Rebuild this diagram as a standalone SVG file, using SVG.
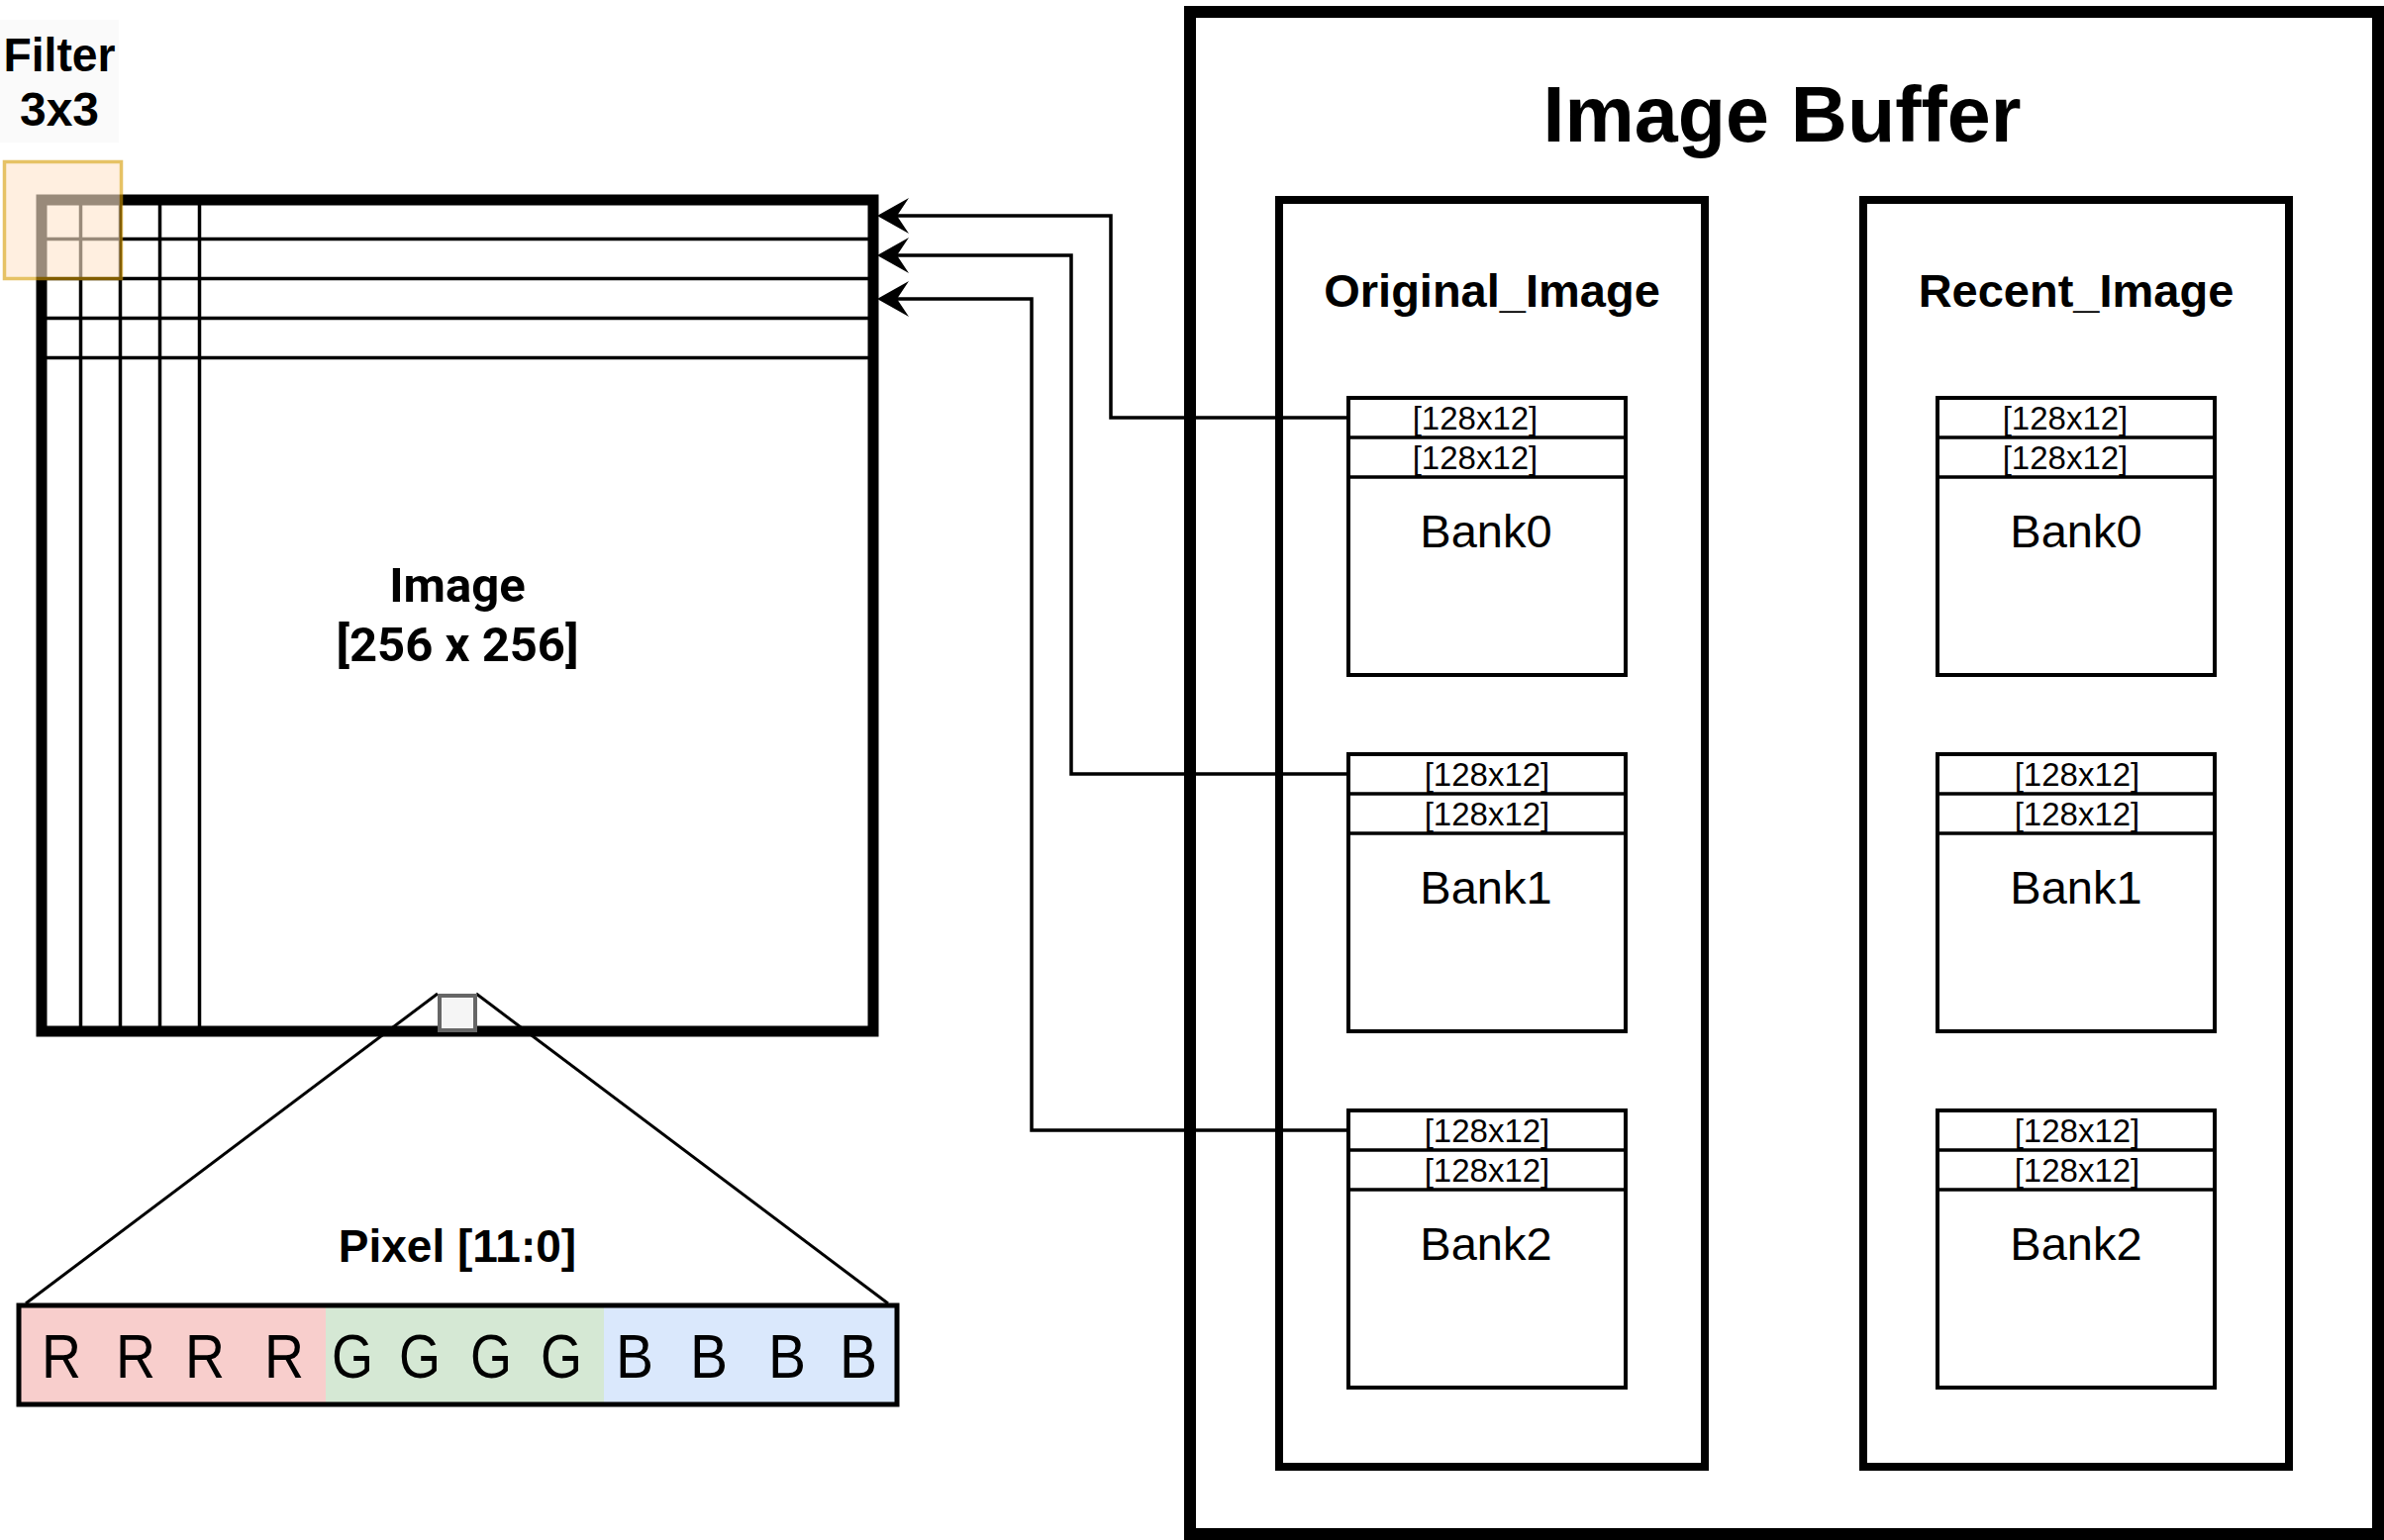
<svg xmlns="http://www.w3.org/2000/svg" width="2408" height="1556" viewBox="0 0 2408 1556">
<style>
.t{font-family:"Liberation Sans",Arial,sans-serif;fill:#000}
.b{font-weight:bold}
.mid{text-anchor:middle}
.thick{fill:#fff;stroke:#000;stroke-width:11}
.box{fill:#fff;stroke:#000;stroke-width:8}
.bank{fill:#fff;stroke:#000;stroke-width:4}
.div{stroke:#000;stroke-width:3.5}
.grid{stroke:#000;stroke-width:3.5}
.conn{fill:none;stroke:#000;stroke-width:3.5}
.small{font-size:33px}
.bk{font-size:47px}
</style>
<defs>
<marker id="arrow" markerUnits="userSpaceOnUse" markerWidth="34" markerHeight="38" refX="12" refY="18" orient="auto" overflow="visible">
<path d="M0,0 L32,18 L0,36 L12,18 Z" fill="#000"/>
</marker>
</defs>
<rect width="2408" height="1556" fill="#fff"/>

<g id="image">
<rect class="thick" x="42" y="202" width="840" height="840"/>
<line class="grid" x1="42" y1="241.5" x2="882" y2="241.5"/>
<line class="grid" x1="42" y1="281.5" x2="882" y2="281.5"/>
<line class="grid" x1="42" y1="321.5" x2="882" y2="321.5"/>
<line class="grid" x1="42" y1="361.5" x2="882" y2="361.5"/>
<line class="grid" x1="81.5" y1="202" x2="81.5" y2="1042"/>
<line class="grid" x1="121.5" y1="202" x2="121.5" y2="1042"/>
<line class="grid" x1="161.5" y1="202" x2="161.5" y2="1042"/>
<line class="grid" x1="201.5" y1="202" x2="201.5" y2="1042"/>
<text x="462" y="608" text-anchor="middle" style="font-family:Roboto,'Liberation Sans',sans-serif;font-weight:bold;font-size:49px">Image</text>
<text x="462" y="668" text-anchor="middle" style="font-family:Roboto,'Liberation Sans',sans-serif;font-weight:bold;font-size:49px">[256 x 256]</text>
</g>

<g id="filter-label">
<rect x="0" y="20" width="120" height="124" fill="#fafafa"/>
<text class="t b mid" x="60" y="72" font-size="48" textLength="113" lengthAdjust="spacingAndGlyphs">Filter</text>
<text class="t b mid" x="60" y="127" font-size="48">3x3</text>
</g>

<g id="filter" opacity="0.6">
<rect x="4.5" y="163.5" width="118" height="118" fill="#ffe6cc" stroke="#d79b00" stroke-width="3.5"/>
</g>

<g id="pixel-zoom">
<line x1="442" y1="1004" x2="26" y2="1317" stroke="#000" stroke-width="3"/>
<line x1="481" y1="1004" x2="897" y2="1317" stroke="#000" stroke-width="3"/>
<rect x="444" y="1006" width="36" height="35" fill="#f5f5f5" stroke="#666" stroke-width="4"/>
<text class="t b mid" x="462" y="1275" font-size="46">Pixel [11:0]</text>
</g>

<g id="pixel-bar">
<rect x="19" y="1319" width="310" height="100" fill="#f8cecc"/>
<rect x="329" y="1319" width="281" height="100" fill="#d5e8d4"/>
<rect x="610" y="1319" width="296" height="100" fill="#dae8fc"/>
<rect x="19" y="1319" width="887" height="100" fill="none" stroke="#000" stroke-width="5"/>
<g class="t mid" font-size="63">
<text x="62" y="1392" textLength="40" lengthAdjust="spacingAndGlyphs">R</text>
<text x="137" y="1392" textLength="40" lengthAdjust="spacingAndGlyphs">R</text>
<text x="207" y="1392" textLength="40" lengthAdjust="spacingAndGlyphs">R</text>
<text x="287" y="1392" textLength="40" lengthAdjust="spacingAndGlyphs">R</text>
<text x="356" y="1392" textLength="42" lengthAdjust="spacingAndGlyphs">G</text>
<text x="424" y="1392" textLength="42" lengthAdjust="spacingAndGlyphs">G</text>
<text x="496" y="1392" textLength="42" lengthAdjust="spacingAndGlyphs">G</text>
<text x="567" y="1392" textLength="42" lengthAdjust="spacingAndGlyphs">G</text>
<text x="641" y="1392" textLength="38" lengthAdjust="spacingAndGlyphs">B</text>
<text x="716" y="1392" textLength="38" lengthAdjust="spacingAndGlyphs">B</text>
<text x="795" y="1392" textLength="38" lengthAdjust="spacingAndGlyphs">B</text>
<text x="867" y="1392" textLength="38" lengthAdjust="spacingAndGlyphs">B</text>
</g>
</g>

<g id="image-buffer">
<rect x="1202" y="12" width="1200" height="1538" fill="#fff" stroke="#000" stroke-width="12"/>
<text class="t b mid" x="1800" y="143" font-size="79">Image Buffer</text>
</g>

<g id="original-image">
<rect class="box" x="1292" y="202" width="430" height="1280"/>
<text class="t b mid" x="1507" y="310" font-size="47">Original_Image</text>
</g>

<g id="recent-image">
<rect class="box" x="1882" y="202" width="430" height="1280"/>
<text class="t b mid" x="2097" y="310" font-size="47">Recent_Image</text>
</g>

<g id="orig-bank0">
<rect class="bank" x="1362" y="402" width="280" height="280"/>
<line class="div" x1="1362" y1="442" x2="1640" y2="442"/>
<line class="div" x1="1362" y1="482" x2="1640" y2="482"/>
<text class="t mid small" x="1490" y="434">[128x12]</text>
<text class="t mid small" x="1490" y="474">[128x12]</text>
<text class="t mid bk" x="1501" y="553">Bank0</text>
</g>
<g id="orig-bank1">
<rect class="bank" x="1362" y="762" width="280" height="280"/>
<line class="div" x1="1362" y1="802" x2="1640" y2="802"/>
<line class="div" x1="1362" y1="842" x2="1640" y2="842"/>
<text class="t mid small" x="1502" y="794">[128x12]</text>
<text class="t mid small" x="1502" y="834">[128x12]</text>
<text class="t mid bk" x="1501" y="913">Bank1</text>
</g>
<g id="orig-bank2">
<rect class="bank" x="1362" y="1122" width="280" height="280"/>
<line class="div" x1="1362" y1="1162" x2="1640" y2="1162"/>
<line class="div" x1="1362" y1="1202" x2="1640" y2="1202"/>
<text class="t mid small" x="1502" y="1154">[128x12]</text>
<text class="t mid small" x="1502" y="1194">[128x12]</text>
<text class="t mid bk" x="1501" y="1273">Bank2</text>
</g>

<g id="recent-bank0">
<rect class="bank" x="1957" y="402" width="280" height="280"/>
<line class="div" x1="1957" y1="442" x2="2235" y2="442"/>
<line class="div" x1="1957" y1="482" x2="2235" y2="482"/>
<text class="t mid small" x="2086" y="434">[128x12]</text>
<text class="t mid small" x="2086" y="474">[128x12]</text>
<text class="t mid bk" x="2097" y="553">Bank0</text>
</g>
<g id="recent-bank1">
<rect class="bank" x="1957" y="762" width="280" height="280"/>
<line class="div" x1="1957" y1="802" x2="2235" y2="802"/>
<line class="div" x1="1957" y1="842" x2="2235" y2="842"/>
<text class="t mid small" x="2098" y="794">[128x12]</text>
<text class="t mid small" x="2098" y="834">[128x12]</text>
<text class="t mid bk" x="2097" y="913">Bank1</text>
</g>
<g id="recent-bank2">
<rect class="bank" x="1957" y="1122" width="280" height="280"/>
<line class="div" x1="1957" y1="1162" x2="2235" y2="1162"/>
<line class="div" x1="1957" y1="1202" x2="2235" y2="1202"/>
<text class="t mid small" x="2098" y="1154">[128x12]</text>
<text class="t mid small" x="2098" y="1194">[128x12]</text>
<text class="t mid bk" x="2097" y="1273">Bank2</text>
</g>

<g id="connectors">
<path class="conn" d="M1360,422 H1122 V218 H906" marker-end="url(#arrow)"/>
<path class="conn" d="M1360,782 H1082 V258 H906" marker-end="url(#arrow)"/>
<path class="conn" d="M1360,1142 H1042 V302 H906" marker-end="url(#arrow)"/>
</g>
</svg>
